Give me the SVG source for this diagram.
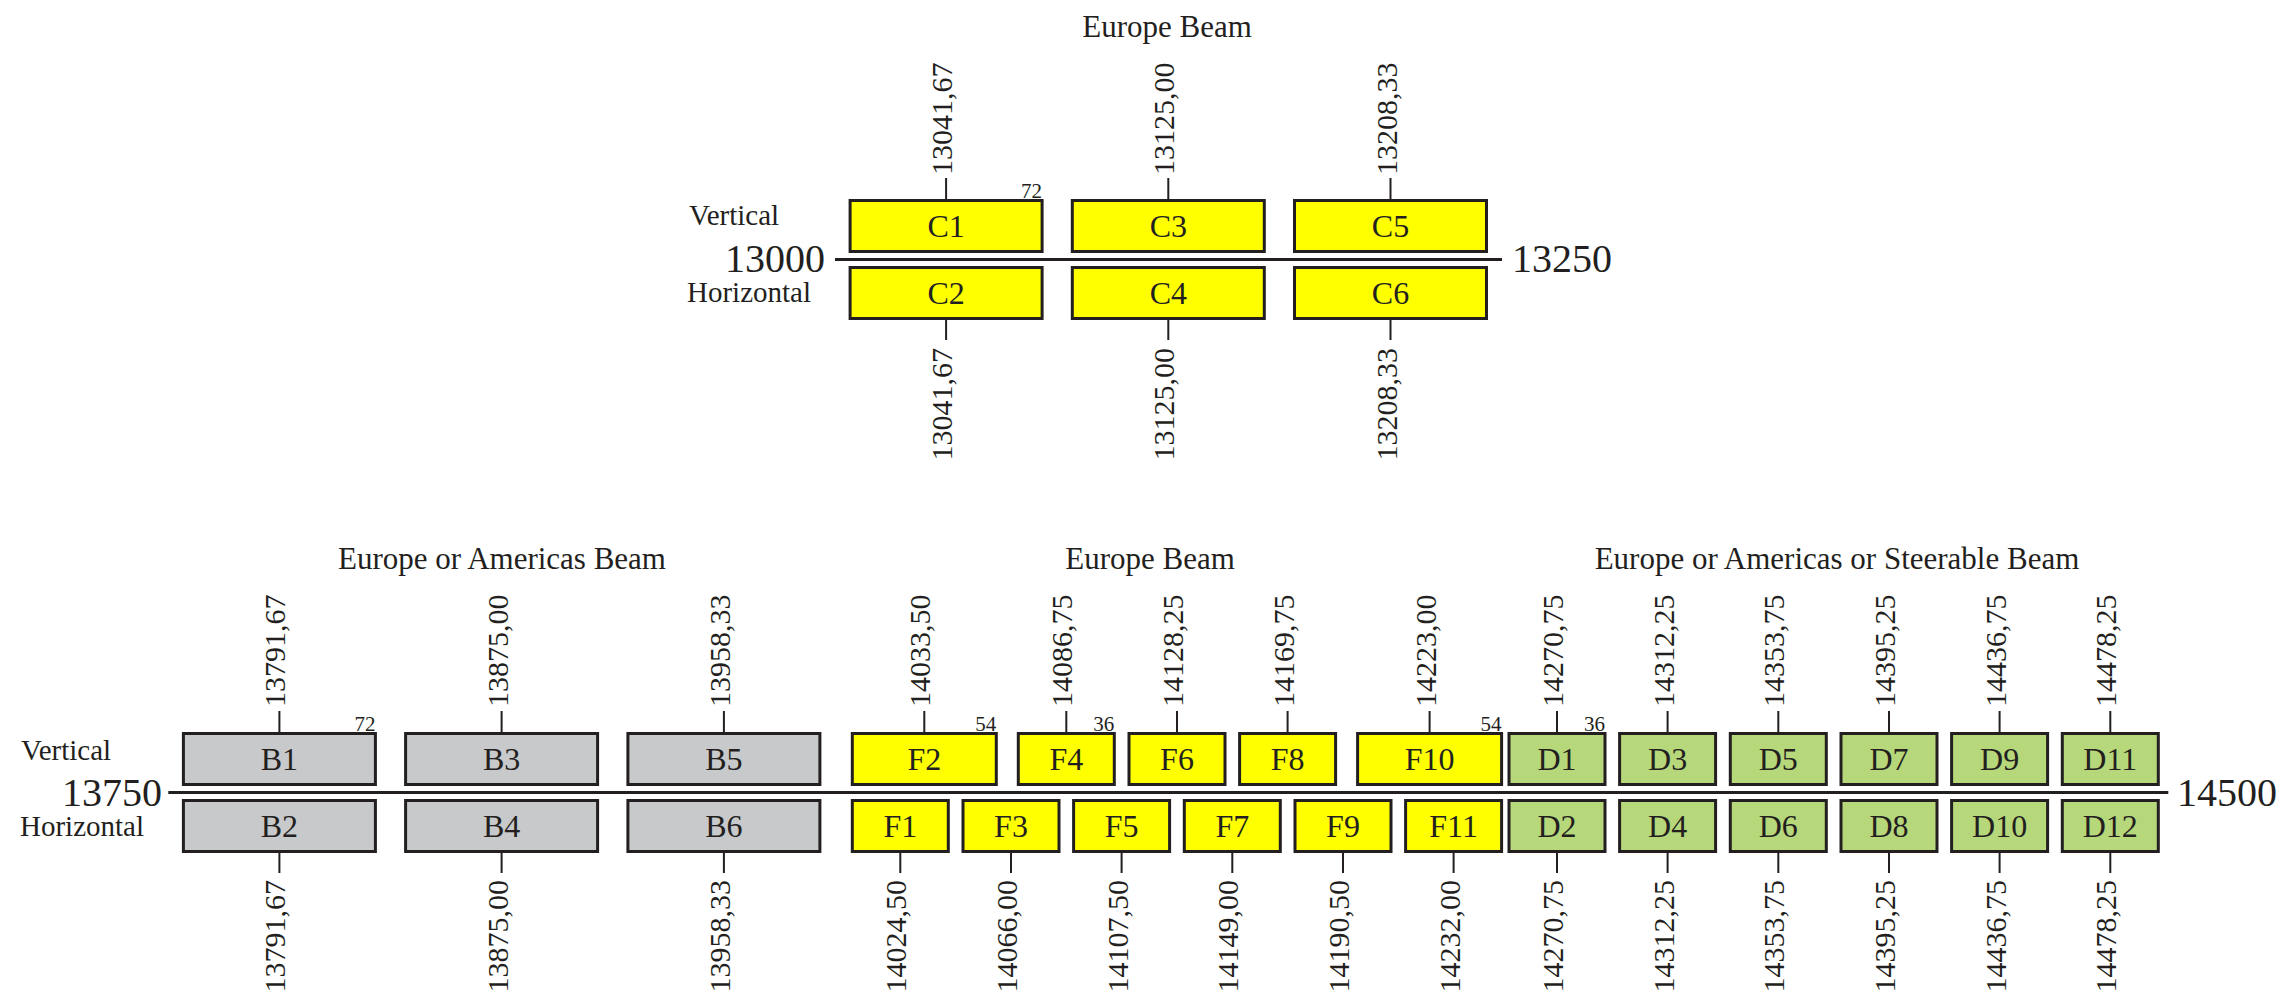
<svg xmlns="http://www.w3.org/2000/svg" width="2296" height="1003" viewBox="0 0 2296 1003">
<style>
text{font-family:"Liberation Serif","Times New Roman",serif;fill:#231f20}
.box{stroke:#231f20;stroke-width:3}
.y{fill:#ffff00}.g{fill:#c8c9cb}.gr{fill:#b7d77b}
.bl{font-size:32px;text-anchor:middle}
.ttl{font-size:31px;text-anchor:middle}
.pol{font-size:29px}
.ax{font-size:40px}
.val{font-size:30px}
.vs{text-anchor:start}.he{text-anchor:end}
.sm{font-size:21px;text-anchor:end}
.tick{stroke:#231f20;stroke-width:2}
.axis{stroke:#231f20;stroke-width:3}
</style>
<rect width="2296" height="1003" fill="#ffffff"/>

<g id="titles">
<text class="ttl" x="1167" y="37">Europe Beam</text>
<text class="ttl" x="502" y="569">Europe or Americas Beam</text>
<text class="ttl" x="1150" y="569">Europe Beam</text>
<text class="ttl" x="1837" y="569">Europe or Americas or Steerable Beam</text>
</g>

<g id="axis-labels">
<text class="pol" x="689" y="225">Vertical</text>
<text class="pol" x="687" y="302">Horizontal</text>
<text class="ax" x="825" y="272" text-anchor="end">13000</text>
<text class="ax" x="1512" y="272">13250</text>
<text class="pol" x="21" y="760">Vertical</text>
<text class="pol" x="20" y="836">Horizontal</text>
<text class="ax" x="162" y="806" text-anchor="end">13750</text>
<text class="ax" x="2177" y="806">14500</text>
</g>

<g id="connectors">
<line class="axis" x1="835" y1="259.5" x2="1502" y2="259.5"/>
<line class="axis" x1="168.3" y1="792.5" x2="2168.3" y2="792.5"/>
<line class="tick" x1="946.1" y1="178" x2="946.1" y2="200.5"/>
<line class="tick" x1="1168.3" y1="178" x2="1168.3" y2="200.5"/>
<line class="tick" x1="1390.5" y1="178" x2="1390.5" y2="200.5"/>
<line class="tick" x1="946.1" y1="318.5" x2="946.1" y2="340"/>
<line class="tick" x1="1168.3" y1="318.5" x2="1168.3" y2="340"/>
<line class="tick" x1="1390.5" y1="318.5" x2="1390.5" y2="340"/>
<line class="tick" x1="279.4" y1="711" x2="279.4" y2="733.5"/>
<line class="tick" x1="501.6" y1="711" x2="501.6" y2="733.5"/>
<line class="tick" x1="723.9" y1="711" x2="723.9" y2="733.5"/>
<line class="tick" x1="924.3" y1="711" x2="924.3" y2="733.5"/>
<line class="tick" x1="1066.3" y1="711" x2="1066.3" y2="733.5"/>
<line class="tick" x1="1177" y1="711" x2="1177" y2="733.5"/>
<line class="tick" x1="1287.6" y1="711" x2="1287.6" y2="733.5"/>
<line class="tick" x1="1429.6" y1="711" x2="1429.6" y2="733.5"/>
<line class="tick" x1="1557" y1="711" x2="1557" y2="733.5"/>
<line class="tick" x1="1667.6" y1="711" x2="1667.6" y2="733.5"/>
<line class="tick" x1="1778.3" y1="711" x2="1778.3" y2="733.5"/>
<line class="tick" x1="1889" y1="711" x2="1889" y2="733.5"/>
<line class="tick" x1="1999.6" y1="711" x2="1999.6" y2="733.5"/>
<line class="tick" x1="2110.3" y1="711" x2="2110.3" y2="733.5"/>
<line class="tick" x1="279.4" y1="851.5" x2="279.4" y2="873"/>
<line class="tick" x1="501.6" y1="851.5" x2="501.6" y2="873"/>
<line class="tick" x1="723.9" y1="851.5" x2="723.9" y2="873"/>
<line class="tick" x1="900.3" y1="851.5" x2="900.3" y2="873"/>
<line class="tick" x1="1011" y1="851.5" x2="1011" y2="873"/>
<line class="tick" x1="1121.6" y1="851.5" x2="1121.6" y2="873"/>
<line class="tick" x1="1232.3" y1="851.5" x2="1232.3" y2="873"/>
<line class="tick" x1="1343" y1="851.5" x2="1343" y2="873"/>
<line class="tick" x1="1453.6" y1="851.5" x2="1453.6" y2="873"/>
<line class="tick" x1="1557" y1="851.5" x2="1557" y2="873"/>
<line class="tick" x1="1667.6" y1="851.5" x2="1667.6" y2="873"/>
<line class="tick" x1="1778.3" y1="851.5" x2="1778.3" y2="873"/>
<line class="tick" x1="1889" y1="851.5" x2="1889" y2="873"/>
<line class="tick" x1="1999.6" y1="851.5" x2="1999.6" y2="873"/>
<line class="tick" x1="2110.3" y1="851.5" x2="2110.3" y2="873"/>
</g>

<g id="frequency-labels" class="val">
<text class="vs" transform="translate(952,175) rotate(-90)">13041,67</text>
<text class="vs" transform="translate(1174.3,175) rotate(-90)">13125,00</text>
<text class="vs" transform="translate(1396.5,175) rotate(-90)">13208,33</text>
<text class="he" transform="translate(952,348) rotate(-90)">13041,67</text>
<text class="he" transform="translate(1174.3,348) rotate(-90)">13125,00</text>
<text class="he" transform="translate(1396.5,348) rotate(-90)">13208,33</text>

<text class="vs" transform="translate(285.4,707) rotate(-90)">13791,67</text>
<text class="vs" transform="translate(507.6,707) rotate(-90)">13875,00</text>
<text class="vs" transform="translate(729.9,707) rotate(-90)">13958,33</text>
<text class="vs" transform="translate(930.3,707) rotate(-90)">14033,50</text>
<text class="vs" transform="translate(1072.3,707) rotate(-90)">14086,75</text>
<text class="vs" transform="translate(1183,707) rotate(-90)">14128,25</text>
<text class="vs" transform="translate(1293.6,707) rotate(-90)">14169,75</text>
<text class="vs" transform="translate(1435.6,707) rotate(-90)">14223,00</text>
<text class="vs" transform="translate(1563,707) rotate(-90)">14270,75</text>
<text class="vs" transform="translate(1673.6,707) rotate(-90)">14312,25</text>
<text class="vs" transform="translate(1784.3,707) rotate(-90)">14353,75</text>
<text class="vs" transform="translate(1895,707) rotate(-90)">14395,25</text>
<text class="vs" transform="translate(2005.6,707) rotate(-90)">14436,75</text>
<text class="vs" transform="translate(2116.3,707) rotate(-90)">14478,25</text>

<text class="he" transform="translate(285.4,880) rotate(-90)">13791,67</text>
<text class="he" transform="translate(507.6,880) rotate(-90)">13875,00</text>
<text class="he" transform="translate(729.9,880) rotate(-90)">13958,33</text>
<text class="he" transform="translate(906.3,880) rotate(-90)">14024,50</text>
<text class="he" transform="translate(1017,880) rotate(-90)">14066,00</text>
<text class="he" transform="translate(1127.6,880) rotate(-90)">14107,50</text>
<text class="he" transform="translate(1238.3,880) rotate(-90)">14149,00</text>
<text class="he" transform="translate(1349,880) rotate(-90)">14190,50</text>
<text class="he" transform="translate(1459.6,880) rotate(-90)">14232,00</text>
<text class="he" transform="translate(1563,880) rotate(-90)">14270,75</text>
<text class="he" transform="translate(1673.6,880) rotate(-90)">14312,25</text>
<text class="he" transform="translate(1784.3,880) rotate(-90)">14353,75</text>
<text class="he" transform="translate(1895,880) rotate(-90)">14395,25</text>
<text class="he" transform="translate(2005.6,880) rotate(-90)">14436,75</text>
<text class="he" transform="translate(2116.3,880) rotate(-90)">14478,25</text>
</g>

<g id="C1"><rect class="box y" x="850.1" y="200.5" width="192" height="51"/><text class="bl" x="946.1" y="237">C1</text><text class="sm" x="1042.1" y="198">72</text></g>
<g id="C3"><rect class="box y" x="1072.3" y="200.5" width="192" height="51"/><text class="bl" x="1168.3" y="237">C3</text></g>
<g id="C5"><rect class="box y" x="1294.5" y="200.5" width="192" height="51"/><text class="bl" x="1390.5" y="237">C5</text></g>
<g id="C2"><rect class="box y" x="850.1" y="267.5" width="192" height="51"/><text class="bl" x="946.1" y="304">C2</text></g>
<g id="C4"><rect class="box y" x="1072.3" y="267.5" width="192" height="51"/><text class="bl" x="1168.3" y="304">C4</text></g>
<g id="C6"><rect class="box y" x="1294.5" y="267.5" width="192" height="51"/><text class="bl" x="1390.5" y="304">C6</text></g>

<g id="B1"><rect class="box g" x="183.4" y="733.5" width="192" height="51"/><text class="bl" x="279.4" y="770">B1</text><text class="sm" x="375.4" y="731">72</text></g>
<g id="B3"><rect class="box g" x="405.6" y="733.5" width="192" height="51"/><text class="bl" x="501.6" y="770">B3</text></g>
<g id="B5"><rect class="box g" x="627.9" y="733.5" width="192" height="51"/><text class="bl" x="723.9" y="770">B5</text></g>
<g id="B2"><rect class="box g" x="183.4" y="800.5" width="192" height="51"/><text class="bl" x="279.4" y="837">B2</text></g>
<g id="B4"><rect class="box g" x="405.6" y="800.5" width="192" height="51"/><text class="bl" x="501.6" y="837">B4</text></g>
<g id="B6"><rect class="box g" x="627.9" y="800.5" width="192" height="51"/><text class="bl" x="723.9" y="837">B6</text></g>

<g id="F2"><rect class="box y" x="852.3" y="733.5" width="144" height="51"/><text class="bl" x="924.3" y="770">F2</text><text class="sm" x="996.3" y="731">54</text></g>
<g id="F4"><rect class="box y" x="1018.3" y="733.5" width="96" height="51"/><text class="bl" x="1066.3" y="770">F4</text><text class="sm" x="1114.3" y="731">36</text></g>
<g id="F6"><rect class="box y" x="1129" y="733.5" width="96" height="51"/><text class="bl" x="1177" y="770">F6</text></g>
<g id="F8"><rect class="box y" x="1239.6" y="733.5" width="96" height="51"/><text class="bl" x="1287.6" y="770">F8</text></g>
<g id="F10"><rect class="box y" x="1357.6" y="733.5" width="144" height="51"/><text class="bl" x="1429.6" y="770">F10</text><text class="sm" x="1501.6" y="731">54</text></g>
<g id="F1"><rect class="box y" x="852.3" y="800.5" width="96" height="51"/><text class="bl" x="900.3" y="837">F1</text></g>
<g id="F3"><rect class="box y" x="963" y="800.5" width="96" height="51"/><text class="bl" x="1011" y="837">F3</text></g>
<g id="F5"><rect class="box y" x="1073.6" y="800.5" width="96" height="51"/><text class="bl" x="1121.6" y="837">F5</text></g>
<g id="F7"><rect class="box y" x="1184.3" y="800.5" width="96" height="51"/><text class="bl" x="1232.3" y="837">F7</text></g>
<g id="F9"><rect class="box y" x="1295" y="800.5" width="96" height="51"/><text class="bl" x="1343" y="837">F9</text></g>
<g id="F11"><rect class="box y" x="1405.6" y="800.5" width="96" height="51"/><text class="bl" x="1453.6" y="837">F11</text></g>

<g id="D1"><rect class="box gr" x="1509" y="733.5" width="96" height="51"/><text class="bl" x="1557" y="770">D1</text><text class="sm" x="1605" y="731">36</text></g>
<g id="D3"><rect class="box gr" x="1619.6" y="733.5" width="96" height="51"/><text class="bl" x="1667.6" y="770">D3</text></g>
<g id="D5"><rect class="box gr" x="1730.3" y="733.5" width="96" height="51"/><text class="bl" x="1778.3" y="770">D5</text></g>
<g id="D7"><rect class="box gr" x="1841" y="733.5" width="96" height="51"/><text class="bl" x="1889" y="770">D7</text></g>
<g id="D9"><rect class="box gr" x="1951.6" y="733.5" width="96" height="51"/><text class="bl" x="1999.6" y="770">D9</text></g>
<g id="D11"><rect class="box gr" x="2062.3" y="733.5" width="96" height="51"/><text class="bl" x="2110.3" y="770">D11</text></g>
<g id="D2"><rect class="box gr" x="1509" y="800.5" width="96" height="51"/><text class="bl" x="1557" y="837">D2</text></g>
<g id="D4"><rect class="box gr" x="1619.6" y="800.5" width="96" height="51"/><text class="bl" x="1667.6" y="837">D4</text></g>
<g id="D6"><rect class="box gr" x="1730.3" y="800.5" width="96" height="51"/><text class="bl" x="1778.3" y="837">D6</text></g>
<g id="D8"><rect class="box gr" x="1841" y="800.5" width="96" height="51"/><text class="bl" x="1889" y="837">D8</text></g>
<g id="D10"><rect class="box gr" x="1951.6" y="800.5" width="96" height="51"/><text class="bl" x="1999.6" y="837">D10</text></g>
<g id="D12"><rect class="box gr" x="2062.3" y="800.5" width="96" height="51"/><text class="bl" x="2110.3" y="837">D12</text></g>
</svg>
